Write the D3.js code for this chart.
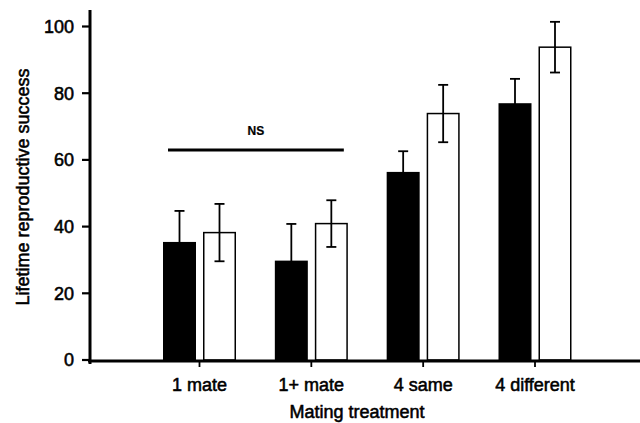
<!DOCTYPE html>
<html>
<head>
<meta charset="utf-8">
<script src="https://cdn.jsdelivr.net/npm/d3@7"></script>
<style>
  html, body { margin: 0; padding: 0; background: #fff; }
  svg { display: block; font-family: "Liberation Sans", Arial, sans-serif; }
  text { fill: #000; stroke: #000; stroke-width: 0.55px; }
</style>
</head>
<body>
<svg id="chart" width="640" height="423"></svg>
<script>
// ---- data ----
const categories = ["1 mate", "1+ mate", "4 same", "4 different"];
const blackValues = [35.4, 29.8, 56.4, 77.0];
const blackErrors = [9.3, 11.0, 6.2, 7.3];
const whiteValues = [38.2, 40.9, 73.9, 93.8];
const whiteErrors = [8.6, 7.0, 8.6, 7.6];
const yTicks = [0, 20, 40, 60, 80, 100];
const nsSignificance = { label: "NS", value: 63, from: 0, to: 1 };

// ---- layout ----
const svg = d3.select("#chart");
const axisX = 90, axisY = 361, xEnd = 640, yTop = 10;
const y = d3.scaleLinear().domain([0, 100]).range([360, 26.5]);
const x = d3.scalePoint().domain(categories).range([199.5, 535]);
const barW = 33, gap = 3.5, capW = 10;
const fs = 18;

// bars
const g = svg.append("g");
categories.forEach((c, i) => {
  const cx = x(c);
  g.append("rect")
    .attr("x", cx - gap - barW).attr("y", y(blackValues[i]))
    .attr("width", barW).attr("height", y(0) - y(blackValues[i]))
    .attr("fill", "#000");
  g.append("rect")
    .attr("x", cx + gap + 0.75).attr("y", y(whiteValues[i]))
    .attr("width", barW - 1.5).attr("height", y(0) - y(whiteValues[i]))
    .attr("fill", "#fff").attr("stroke", "#000").attr("stroke-width", 1.5);
  const eb = [
    { cx: cx - gap - barW / 2, v: blackValues[i], e: blackErrors[i] },
    { cx: cx + gap + barW / 2, v: whiteValues[i], e: whiteErrors[i] }
  ];
  eb.forEach(d => {
    g.append("line").attr("x1", d.cx).attr("x2", d.cx)
      .attr("y1", y(d.v + d.e)).attr("y2", y(d.v - d.e))
      .attr("stroke", "#000").attr("stroke-width", 1.8);
    [d.v + d.e, d.v - d.e].forEach(v => {
      g.append("line").attr("x1", d.cx - capW / 2).attr("x2", d.cx + capW / 2)
        .attr("y1", y(v)).attr("y2", y(v))
        .attr("stroke", "#000").attr("stroke-width", 1.8);
    });
  });
});

// axes lines
svg.append("line").attr("x1", axisX - 2).attr("x2", xEnd).attr("y1", axisY).attr("y2", axisY)
  .attr("stroke", "#000").attr("stroke-width", 3);
svg.append("line").attr("x1", axisX).attr("x2", axisX).attr("y1", yTop).attr("y2", axisY + 3)
  .attr("stroke", "#000").attr("stroke-width", 3);

// y ticks
yTicks.forEach(t => {
  svg.append("line").attr("x1", axisX - 8).attr("x2", axisX).attr("y1", y(t)).attr("y2", y(t))
    .attr("stroke", "#000").attr("stroke-width", 2.2);
  svg.append("text").attr("x", 74).attr("y", y(t)).attr("dy", "0.36em")
    .attr("text-anchor", "end").attr("font-size", fs)
    .text(t);
});

// x ticks + labels
categories.forEach(c => {
  svg.append("line").attr("x1", x(c)).attr("x2", x(c)).attr("y1", axisY).attr("y2", axisY + 6)
    .attr("stroke", "#000").attr("stroke-width", 1.8);
  svg.append("text").attr("x", x(c)).attr("y", 391)
    .attr("text-anchor", "middle").attr("font-size", fs)
    .text(c);
});

// axis titles
svg.append("text").attr("x", 357).attr("y", 418)
  .attr("text-anchor", "middle").attr("font-size", fs)
  .text("Mating treatment");
svg.append("text").attr("transform", "translate(29,187) rotate(-90)")
  .attr("text-anchor", "middle").attr("font-size", fs)
  .text("Lifetime reproductive success");

// NS line
const nsX1 = x(categories[nsSignificance.from]) - 31.5;
const nsX2 = x(categories[nsSignificance.to]) + 32.5;
svg.append("line").attr("x1", nsX1).attr("x2", nsX2)
  .attr("y1", y(nsSignificance.value)).attr("y2", y(nsSignificance.value))
  .attr("stroke", "#000").attr("stroke-width", 3);
svg.append("text").attr("x", (nsX1 + nsX2) / 2).attr("y", y(nsSignificance.value) - 15)
  .attr("text-anchor", "middle").attr("font-size", 12).attr("font-weight", "bold")
  .style("stroke-width", "0.2px")
  .text(nsSignificance.label);
</script>
</body>
</html>
